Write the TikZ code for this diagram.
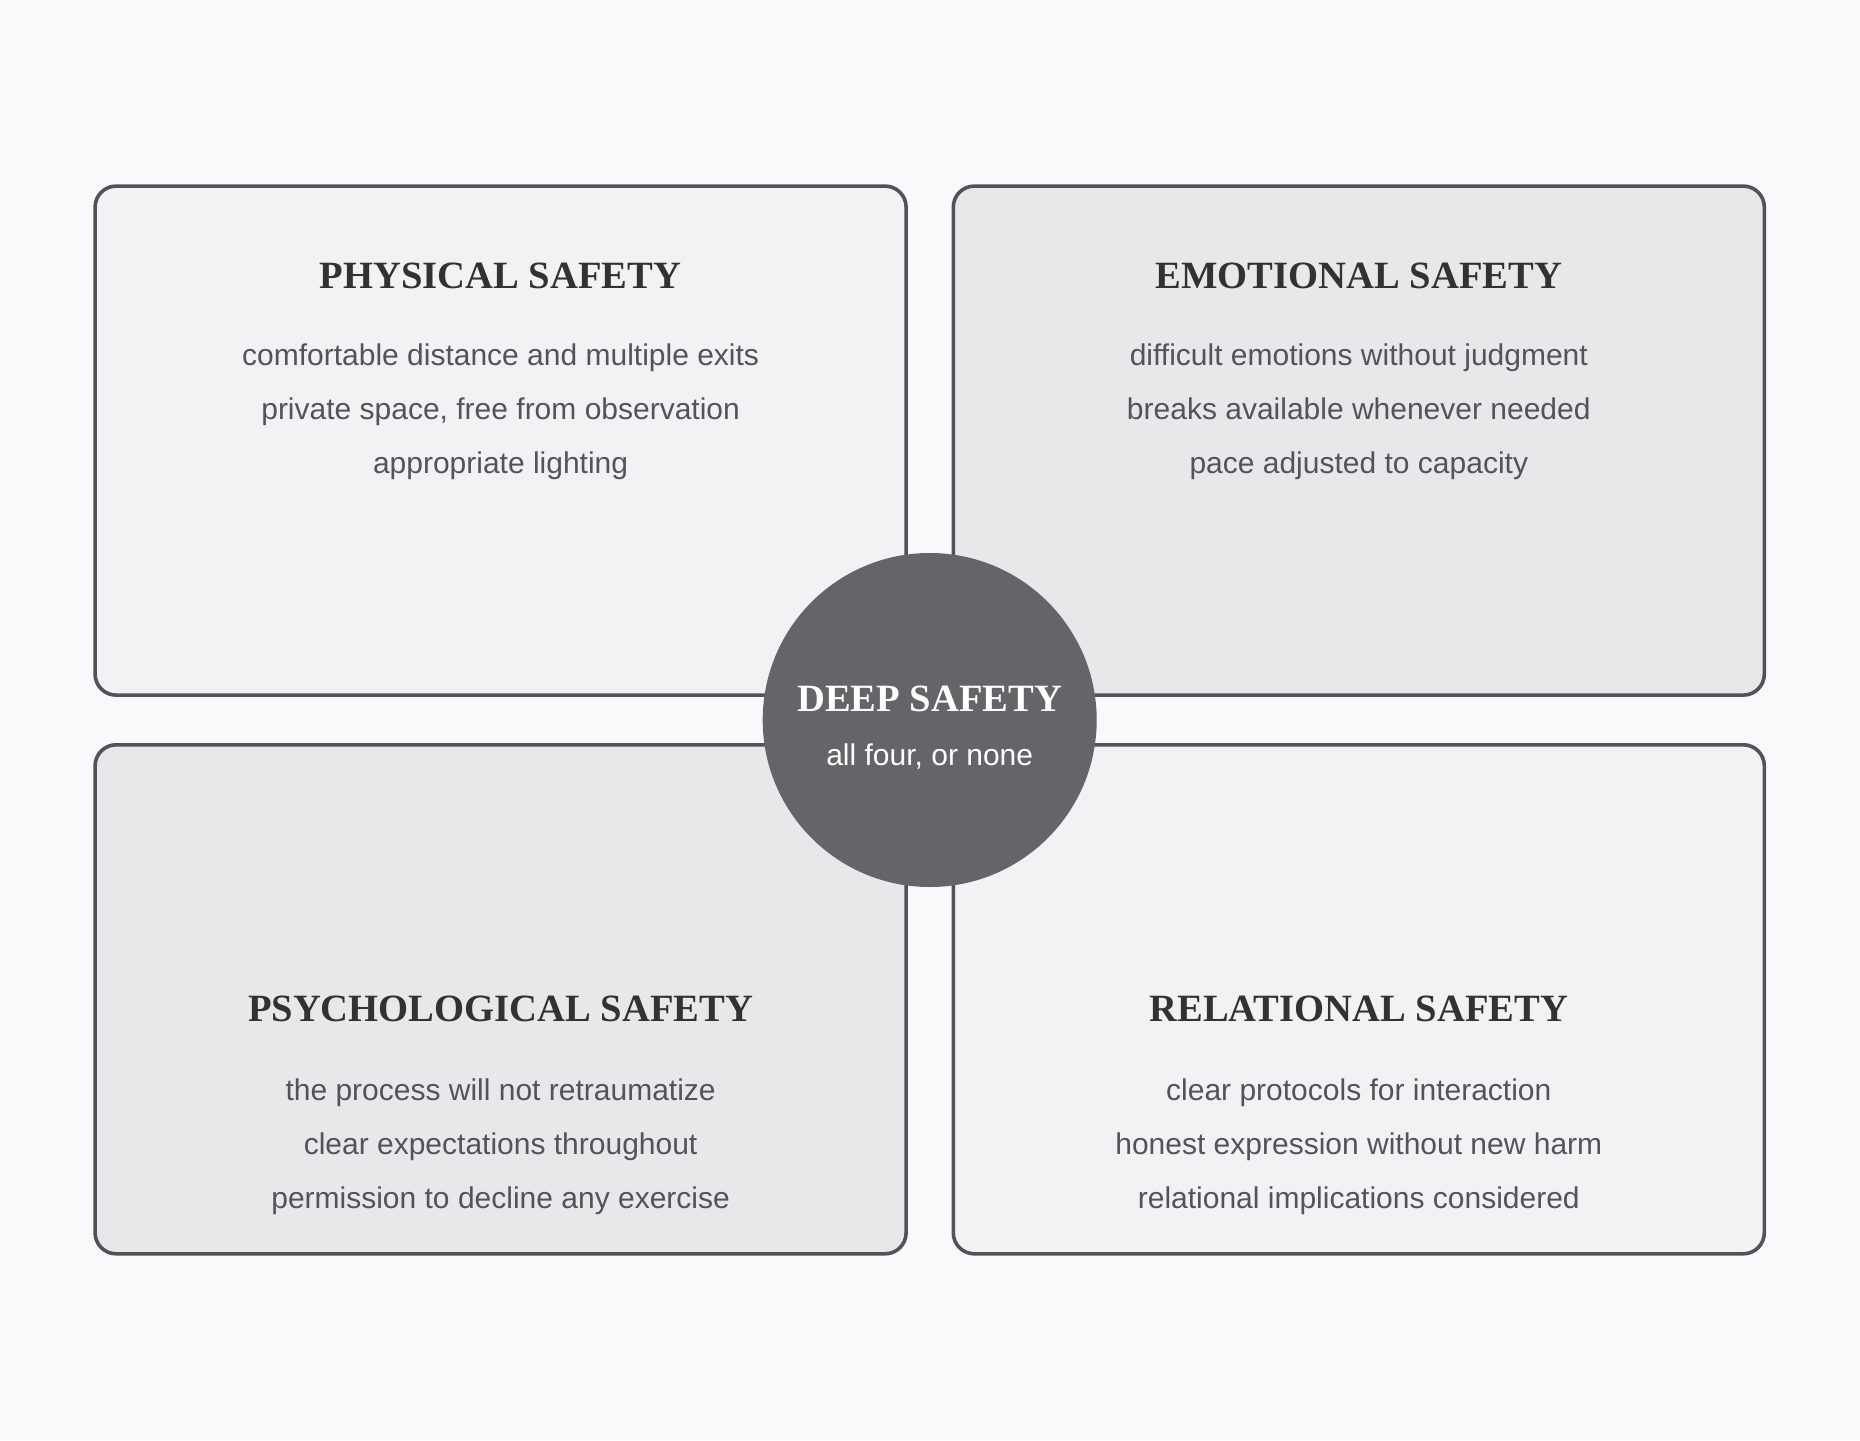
\documentclass[tikz,border=0pt]{standalone}
\usepackage{fontspec}
\setmainfont{Liberation Serif}
\setsansfont{Liberation Sans}
\usepackage{tikz}
\usetikzlibrary{calc}
\definecolor{pagebg}{HTML}{F9F8FA}
\definecolor{lightfill}{HTML}{F2F1F3}
\definecolor{darkfill}{HTML}{E9E7EA}
\definecolor{edgegray}{HTML}{545256}
\definecolor{hubfill}{HTML}{666468}
\definecolor{titlegray}{HTML}{333134}
\definecolor{itemgray}{HTML}{555357}
\tikzset{ quad/.style={draw=edgegray,line width=3.6pt,rounded corners=21pt,minimum width=811pt,minimum height=509pt},
  hub/.style={circle,fill=hubfill,minimum size=334pt,inner sep=0pt},
  qtitle/.style={anchor=base,text=titlegray,font=\bfseries\fontsize{38.6}{38.6}\selectfont},
  qitem/.style={anchor=base,text=itemgray,font=\sffamily\fontsize{30}{30}\selectfont} }

\begin{document}
\begin{tikzpicture}[x=1pt,y=-1pt]
   \fill[pagebg] (0,0) rectangle (1860,1440);
   \useasboundingbox (0,0) rectangle (1860,1440);
   \node[quad,fill=lightfill] (phys) at (500.6,440.6) {};
   \node[quad,fill=darkfill] (emo) at (1358.8,440.6) {};
   \node[quad,fill=darkfill] (psy) at (500.6,999.3) {};
   \node[quad,fill=lightfill] (rel) at (1358.8,999.3) {};
   % top row
   \node[qtitle] (physT) at ($(phys.north)+(0,104.5)$) {PHYSICAL SAFETY};
   \node[qitem] (phys1) at ($(phys.north)+(0,181)$) {comfortable distance and multiple exits};
   \node[qitem] (phys2) at ($(phys.north)+(0,235)$) {private space, free from observation};
   \node[qitem] (phys3) at ($(phys.north)+(0,289)$) {appropriate lighting};
   \node[qtitle] (emoT) at ($(emo.north)+(0,104.5)$) {EMOTIONAL SAFETY};
   \node[qitem] (emo1) at ($(emo.north)+(0,181)$) {difficult emotions without judgment};
   \node[qitem] (emo2) at ($(emo.north)+(0,235)$) {breaks available whenever needed};
   \node[qitem] (emo3) at ($(emo.north)+(0,289)$) {pace adjusted to capacity};
   % bottom row
   \node[qtitle] (psyT) at ($(psy.south)+(0,-234.5)$) {PSYCHOLOGICAL SAFETY};
   \node[qitem] (psy1) at ($(psy.south)+(0,-155)$) {the process will not retraumatize};
   \node[qitem] (psy2) at ($(psy.south)+(0,-101)$) {clear expectations throughout};
   \node[qitem] (psy3) at ($(psy.south)+(0,-47)$) {permission to decline any exercise};
   \node[qtitle] (relT) at ($(rel.south)+(0,-234.5)$) {RELATIONAL SAFETY};
   \node[qitem] (rel1) at ($(rel.south)+(0,-155)$) {clear protocols for interaction};
   \node[qitem] (rel2) at ($(rel.south)+(0,-101)$) {honest expression without new harm};
   \node[qitem] (rel3) at ($(rel.south)+(0,-47)$) {relational implications considered};
   % centre
   \node[hub] (deep) at (929.7,720) {};
   \node[qtitle,text=white] (deepT) at ($(deep.center)+(0,-9)$) {DEEP SAFETY};
   \node[qitem,text=white] (deepS) at ($(deep.center)+(0,45)$) {all four, or none};
  \end{tikzpicture}
\end{document}
